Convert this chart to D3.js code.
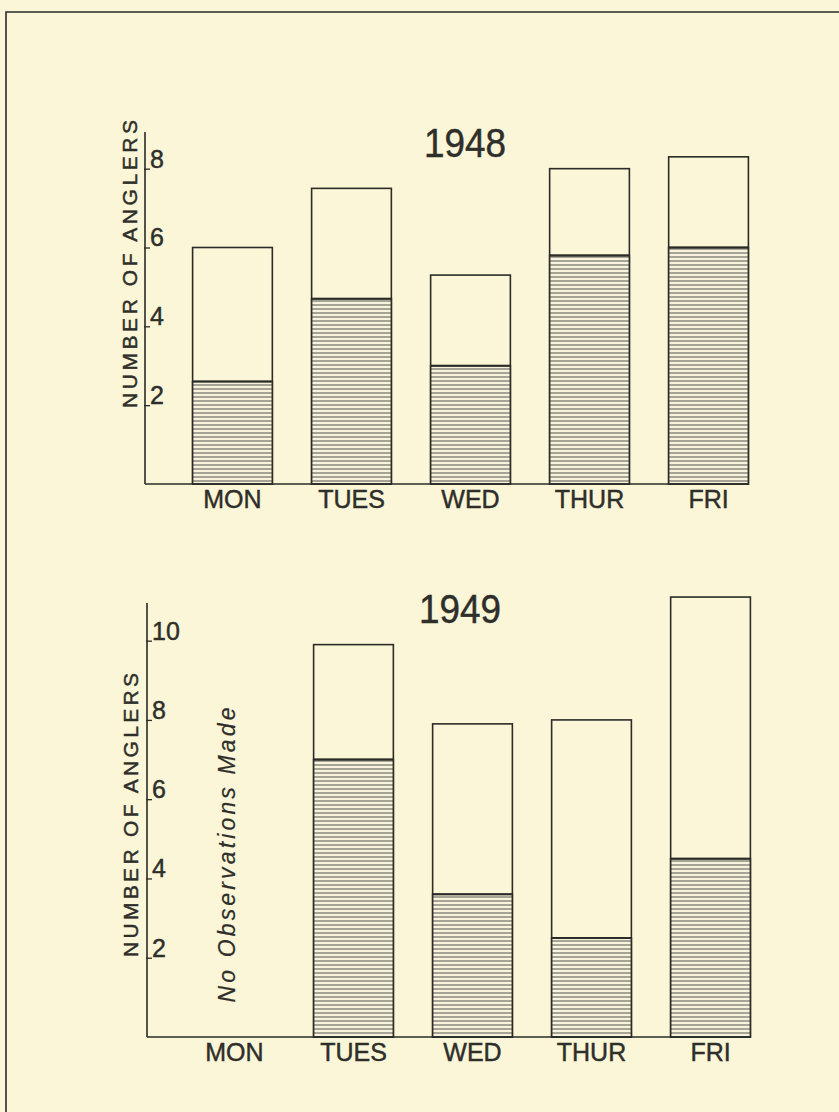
<!DOCTYPE html>
<html>
<head>
<meta charset="utf-8">
<script src="https://cdn.jsdelivr.net/npm/d3@7"></script>
<style>
  html, body { margin: 0; padding: 0; background: #fbf6d7; }
  svg { display: block; }
  text { font-family: "Liberation Sans", Arial, sans-serif; fill: #2e2e2a; stroke: #2e2e2a; stroke-width: 0.45px; }
</style>
</head>
<body>
<svg id="chart" width="839" height="1112"></svg>
<script>
// Anglers counted on each weekday; hatched part of each bar is the lower segment.
const days = ["MON", "TUES", "WED", "THUR", "FRI"];

const total1948   = [6.0, 7.5, 5.3, 8.0, 8.3];
const hatched1948 = [2.6, 4.7, 3.0, 5.8, 6.0];

// Monday 1949: no observations made
const total1949   = [null, 9.9, 7.9, 8.0, 11.1];
const hatched1949 = [null, 7.0, 3.6, 2.5, 4.5];

const ticks1948 = [2, 4, 6, 8];
const ticks1949 = [2, 4, 6, 8, 10];

const yTitle = "NUMBER OF ANGLERS";
const noObsNote = "No Observations Made";

const ink = "#2b2b27";
const svg = d3.select("#chart");

// paper background and the drawn border
svg.append("rect").attr("width", 839).attr("height", 1112).attr("fill", "#fbf6d7");
svg.append("path")
  .attr("d", "M6,1112 V12 H839")
  .attr("fill", "none").attr("stroke", ink).attr("stroke-width", 1.6);

// horizontal line shading
const defs = svg.append("defs");
const pat = defs.append("pattern")
  .attr("id", "hatch").attr("patternUnits", "userSpaceOnUse")
  .attr("width", 8).attr("height", 4);
pat.append("rect").attr("width", 8).attr("height", 4).attr("fill", "#f7f3dc");
pat.append("line").attr("x1", 0).attr("x2", 8).attr("y1", 1).attr("y2", 1)
  .attr("stroke", "#55554d").attr("stroke-width", 1);

function panel(opt) {
  const { axisX, axisTop, baseY, yMax, year, totals, hatched, ticks,
          titleX, titleY, yTitleX, yTitleY, yTitleLen, labelY } = opt;

  const x = d3.scaleBand().domain(days)
    .range([axisX, axisX + 651]).paddingInner(0.33).paddingOuter(0.4);
  const y = d3.scaleLinear().domain([0, yMax]).range([baseY, axisTop]);

  const g = svg.append("g");

  // bars: outline of the total, shaded lower part
  days.forEach((d, i) => {
    if (totals[i] == null) return;
    g.append("rect")
      .attr("x", x(d)).attr("y", y(totals[i]))
      .attr("width", x.bandwidth()).attr("height", y(0) - y(totals[i]))
      .attr("fill", "none").attr("stroke", ink).attr("stroke-width", 1.6);
    g.append("rect")
      .attr("x", x(d)).attr("y", y(hatched[i]))
      .attr("width", x.bandwidth()).attr("height", y(0) - y(hatched[i]))
      .attr("fill", "url(#hatch)").attr("stroke", ink).attr("stroke-width", 1.6);
    g.append("line")
      .attr("x1", x(d)).attr("x2", x(d) + x.bandwidth())
      .attr("y1", y(hatched[i])).attr("y2", y(hatched[i]))
      .attr("stroke", ink).attr("stroke-width", 2);
  });

  // y axis line with short inward ticks
  const yAxis = d3.axisRight(y).tickValues(ticks).tickSize(6).tickFormat("");
  const ya = g.append("g").attr("transform", `translate(${axisX - 1},0)`).call(yAxis);
  ya.select(".domain").remove();
  ya.selectAll(".tick line").attr("stroke", ink).attr("stroke-width", 1.3);
  g.append("line")
    .attr("x1", axisX).attr("x2", axisX).attr("y1", axisTop).attr("y2", baseY)
    .attr("stroke", ink).attr("stroke-width", 1.6);

  // tick numbers sit just right of the axis
  g.selectAll("text.tickval").data(ticks).join("text")
    .attr("class", "tickval")
    .attr("x", axisX + 5).attr("y", t => y(t) - 1)
    .attr("font-size", 25)
    .text(t => t);

  // baseline
  g.append("line")
    .attr("x1", axisX).attr("x2", x(days[days.length - 1]) + x.bandwidth())
    .attr("y1", baseY).attr("y2", baseY)
    .attr("stroke", ink).attr("stroke-width", 1.6);

  // weekday labels
  g.selectAll("text.day").data(days).join("text")
    .attr("class", "day")
    .attr("x", d => x(d) + x.bandwidth() / 2).attr("y", labelY)
    .attr("text-anchor", "middle").attr("font-size", 25)
    .text(d => d);

  // year heading
  g.append("text")
    .attr("x", titleX).attr("y", titleY)
    .attr("text-anchor", "middle").attr("font-size", 40)
    .attr("textLength", 82).attr("lengthAdjust", "spacingAndGlyphs")
    .text(year);

  // rotated axis title
  g.append("text")
    .attr("transform", `translate(${yTitleX},${yTitleY}) rotate(-90)`)
    .attr("text-anchor", "middle").attr("font-size", 21)
    .attr("textLength", yTitleLen).attr("lengthAdjust", "spacing")
    .text(yTitle);

  return { x, y, g };
}

panel({
  axisX: 145, axisTop: 132, baseY: 484, yMax: 8.93, year: "1948",
  totals: total1948, hatched: hatched1948, ticks: ticks1948,
  titleX: 465, titleY: 157, yTitleX: 137, yTitleY: 264, yTitleLen: 288, labelY: 508
});

const p2 = panel({
  axisX: 147, axisTop: 603, baseY: 1037, yMax: 10.95, year: "1949",
  totals: total1949, hatched: hatched1949, ticks: ticks1949,
  titleX: 460, titleY: 623, yTitleX: 138, yTitleY: 815, yTitleLen: 284, labelY: 1061
});

// note in the empty Monday slot
p2.g.append("text")
  .attr("transform", "translate(235,855) rotate(-90)")
  .attr("text-anchor", "middle").attr("font-size", 23)
  .attr("font-style", "italic").style("stroke-width", "0.2px")
  .attr("textLength", 295).attr("lengthAdjust", "spacing")
  .text(noObsNote);
</script>
</body>
</html>
